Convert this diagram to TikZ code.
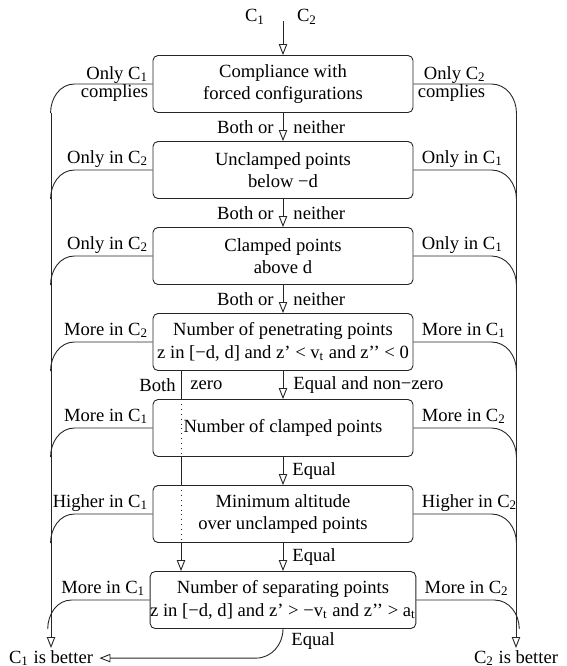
\documentclass[tikz,border=0pt]{standalone}
\usepackage{fontspec}
\setmainfont{Liberation Serif}
\usetikzlibrary{arrows.meta}
\begin{document}
\begin{tikzpicture}[x=0.5pt,y=0.5pt,
  font=\fontsize{9.3}{11.3}\selectfont,
  line width=0.45pt, draw=black!85,
  box/.style={draw=black!85, rounded corners=2.5pt, minimum width=130pt, minimum height=28.5pt, align=center, inner sep=0pt},
  arr/.style={-{Triangle[open,length=5.5pt,width=4.2pt]}},
  lab/.style={inner sep=0pt},
  lft/.style={lab, anchor=base east},
  rgt/.style={lab, anchor=base west},
]
\useasboundingbox (0,0) rectangle (567,-666);

% boxes
\node[box] (b1) at (283,-84) {Compliance with\\forced configurations};
\node[box] (b2) at (283,-170) {Unclamped points\\below −d};
\node[box] (b3) at (283,-256) {Clamped points\\above d};
\node[box] (b4) at (283,-342) {Number of penetrating points\\z in [−d, d] and z’ < v\textsubscript{t} and z’’ < 0};
\node[box] (b5) at (283,-428) {Number of clamped points};
\node[box] (b6) at (283,-514) {Minimum altitude\\over unclamped points};
\node[box] (b7) at (283,-600) {Number of separating points\\z in [−d, d] and z’ > −v\textsubscript{t} and z’’ > a\textsubscript{t}};

% top inputs
\node (c1top) at (255,-17) {C\textsubscript{1}};
\node (c2top) at (307,-17) {C\textsubscript{2}};
\coordinate (start) at (283,-21);
\draw[arr] (start) -- (b1.north);

% results
\node[inner sep=1pt, anchor=north] (c1b) at (51,-648) {C\textsubscript{1} is better};
\node[inner sep=1pt, anchor=north] (c2b) at (516,-648) {C\textsubscript{2} is better};
\coordinate (Ltop) at (51,-113);
\coordinate (Rtop) at (516,-113);
\draw[arr] (Ltop) -- (c1b.north);
\draw[arr] (Rtop) -- (c2b.north);

% main chain
\draw[arr] (b1.south) -- node[lab,left=4.5pt]{Both or} node[lab,right=5pt]{neither} (b2.north);
\draw[arr] (b2.south) -- node[lab,left=4.5pt]{Both or} node[lab,right=5pt]{neither} (b3.north);
\draw[arr] (b3.south) -- node[lab,left=4.5pt]{Both or} node[lab,right=5pt]{neither} (b4.north);
\draw[arr] (b4.south) -- node[lab,right=5pt]{Equal and non−zero} (b5.north);
\draw[arr] (b5.south) -- node[lab,right=4.5pt]{Equal} (b6.north);
\draw[arr] (b6.south) -- node[lab,right=4.5pt]{Equal} (b7.north);

% both zero bypass
\coordinate (bz) at (181,0);
\draw (b4.south -| bz) -- node[lab,left=2.5pt]{Both} node[lab,right=4.5pt]{zero} (b5.north -| bz);
\draw[dotted] (b5.north -| bz) -- (b5.south -| bz);
\draw (b5.south -| bz) -- (b6.north -| bz);
\draw[dotted] (b6.north -| bz) -- (b6.south -| bz);
\draw[arr] (b6.south -| bz) -- (b7.north -| bz);

% final equal
\coordinate (eqc) at ([xshift=-13.5pt]b7.south);
\draw[arr] (b7.south) to[out=270,in=0] (eqc |- c1b.east) -- ([xshift=2pt]c1b.east);
\node[lab, anchor=west] (eqlast) at ([xshift=4pt,yshift=-6.25pt]b7.south) {Equal};

% side branches
\foreach \b in {b1,b2,b3,b4,b5,b6,b7}{
  \draw (\b.west) -- ++(-78,0) to[out=180,in=90] ++(-24,-29);
  \draw (\b.east) -- ++(78,0) to[out=0,in=90] ++(25,-29);
}

% side labels
\node[lft] (l1a) at ([xshift=-2pt,yshift=2.5pt]b1.west) {Only C\textsubscript{1}};
\node[lft] (l1b) at ([xshift=-2pt,yshift=-6.5pt]b1.west) {complies};
\node[rgt] (r1a) at ([xshift=5pt,yshift=2.5pt]b1.east) {Only C\textsubscript{2}};
\node[rgt] (r1b) at ([xshift=2pt,yshift=-6.5pt]b1.east) {complies};

\node[lft] (l2) at ([xshift=-2pt,yshift=3.5pt]b2.west) {Only in C\textsubscript{2}};
\node[rgt] (r2) at ([xshift=4pt,yshift=3.5pt]b2.east) {Only in C\textsubscript{1}};
\node[lft] (l3) at ([xshift=-2pt,yshift=3.5pt]b3.west) {Only in C\textsubscript{2}};
\node[rgt] (r3) at ([xshift=4pt,yshift=3.5pt]b3.east) {Only in C\textsubscript{1}};
\node[lft] (l4) at ([xshift=-2pt,yshift=3.5pt]b4.west) {More in C\textsubscript{2}};
\node[rgt] (r4) at ([xshift=4pt,yshift=3.5pt]b4.east) {More in C\textsubscript{1}};
\node[lft] (l5) at ([xshift=-2pt,yshift=3.5pt]b5.west) {More in C\textsubscript{1}};
\node[rgt] (r5) at ([xshift=4pt,yshift=3.5pt]b5.east) {More in C\textsubscript{2}};
\node[lft] (l6) at ([xshift=-2pt,yshift=3.5pt]b6.west) {Higher in C\textsubscript{1}};
\node[rgt] (r6) at ([xshift=4pt,yshift=3.5pt]b6.east) {Higher in C\textsubscript{2}};
\node[lft] (l7) at ([xshift=-2pt,yshift=3.5pt]b7.west) {More in C\textsubscript{1}};
\node[rgt] (r7) at ([xshift=4pt,yshift=3.5pt]b7.east) {More in C\textsubscript{2}};
\end{tikzpicture}
\end{document}
